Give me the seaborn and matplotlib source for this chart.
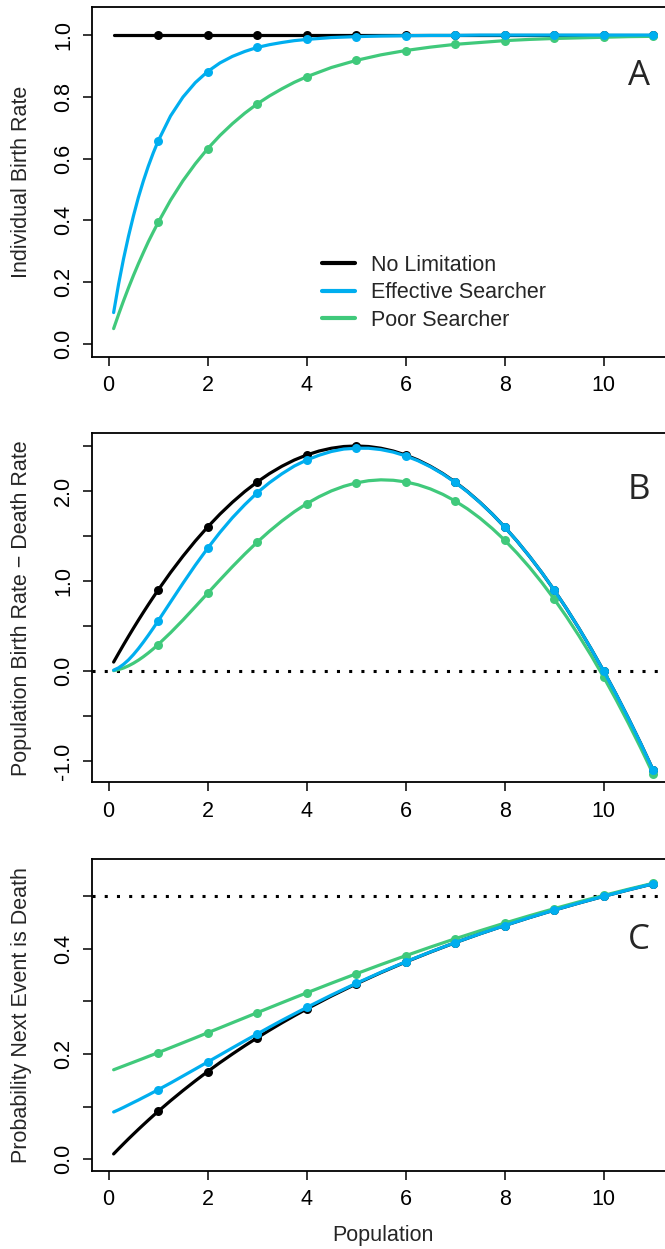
import matplotlib
matplotlib.use("Agg")
import pandas as pd
import matplotlib.pyplot as plt
import seaborn as sns
from matplotlib.lines import Line2D
from matplotlib.ticker import FixedLocator, FuncFormatter

population_ac = [0.1, 0.2, 0.3, 0.4, 0.5, 0.6, 0.7, 0.8, 0.9, 1.0,
                 1.25, 1.5, 1.75, 2.0, 2.25, 2.5, 2.75, 3.0, 3.25, 3.5, 3.75, 4.0,
                 4.5, 5.0, 5.5, 6.0, 6.5, 7.0, 7.5, 8.0, 8.5, 9.0, 9.5, 10.0,
                 10.5, 11.0]
# panel B is more curved, so read on a finer grid
population_b = [0.1, 0.2, 0.3, 0.4, 0.5, 0.6, 0.7, 0.8, 0.9,
                1.0, 1.25, 1.5, 1.75, 2.0, 2.25, 2.5, 2.75, 3.0, 3.25, 3.5,
                3.75, 4.0, 4.25, 4.5, 4.75, 5.0, 5.25, 5.5, 5.75, 6.0, 6.25,
                6.5, 6.75, 7.0, 7.25, 7.5, 7.75, 8.0, 8.25, 8.5, 8.75, 9.0,
                9.25, 9.5, 9.75, 10.0, 10.25, 10.5, 10.75, 11.0]
dot_population = [1, 2, 3, 4, 5, 6, 7, 8, 9, 10, 11]

searchers = ["No Limitation", "Effective Searcher", "Poor Searcher"]

# A - individual birth rate
birth_none = [1.0, 1.0, 1.0, 1.0, 1.0, 1.0, 1.0, 1.0, 1.0, 1.0, 1.0, 1.0,
              1.0, 1.0, 1.0, 1.0, 1.0, 1.0, 1.0, 1.0, 1.0, 1.0, 1.0, 1.0,
              1.0, 1.0, 1.0, 1.0, 1.0, 1.0, 1.0, 1.0, 1.0, 1.0, 1.0, 1.0]
birth_effective = [0.101, 0.193, 0.275, 0.348, 0.414, 0.474, 0.527, 0.575,
                   0.618, 0.657, 0.738, 0.799, 0.846, 0.882, 0.910, 0.931,
                   0.947, 0.960, 0.969, 0.976, 0.982, 0.986, 0.992, 0.995,
                   0.997, 0.998, 0.999, 0.999, 1.0, 1.0, 1.0, 1.0, 1.0, 1.0,
                   1.0, 1.0]
birth_poor = [0.049, 0.095, 0.139, 0.181, 0.221, 0.259, 0.295, 0.330, 0.362,
              0.393, 0.465, 0.528, 0.583, 0.632, 0.675, 0.713, 0.747, 0.777,
              0.803, 0.826, 0.847, 0.865, 0.895, 0.918, 0.936, 0.950, 0.961,
              0.970, 0.976, 0.982, 0.986, 0.989, 0.991, 0.993, 0.995, 0.996]

# B - population birth rate minus death rate
growth_none = [0.099, 0.196, 0.291, 0.384, 0.475, 0.564, 0.651, 0.736, 0.819,
               0.9, 1.094, 1.275, 1.444, 1.6, 1.744, 1.875, 1.994, 2.1, 2.194,
               2.275, 2.344, 2.4, 2.444, 2.475, 2.494, 2.5, 2.494, 2.475,
               2.444, 2.4, 2.344, 2.275, 2.194, 2.1, 1.994, 1.875, 1.744, 1.6,
               1.444, 1.275, 1.094, 0.9, 0.694, 0.475, 0.244, 0.0, -0.256,
               -0.525, -0.806, -1.1]
growth_effective = [0.009, 0.035, 0.074, 0.123, 0.182, 0.248, 0.320, 0.396,
                    0.475, 0.557, 0.766, 0.974, 1.175, 1.364, 1.541, 1.703,
                    1.848, 1.980, 2.093, 2.191, 2.277, 2.344, 2.397, 2.439,
                    2.466, 2.475, 2.475, 2.460, 2.432, 2.390, 2.336, 2.269,
                    2.189, 2.096, 1.991, 1.873, 1.743, 1.600, 1.444, 1.275,
                    1.094, 0.900, 0.694, 0.475, 0.244, 0.0, -0.256, -0.525,
                    -0.806, -1.1]
growth_poor = [0.004, 0.015, 0.033, 0.057, 0.086, 0.120, 0.158, 0.200, 0.245,
               0.294, 0.425, 0.566, 0.714, 0.864, 1.013, 1.159, 1.299, 1.431,
               1.554, 1.667, 1.769, 1.859, 1.936, 2.001, 2.052, 2.090, 2.114,
               2.124, 2.119, 2.101, 2.069, 2.023, 1.963, 1.889, 1.801, 1.699,
               1.583, 1.454, 1.310, 1.154, 0.984, 0.800, 0.603, 0.392, 0.170,
               -0.067, -0.317, -0.580, -0.856, -1.145]

# C - probability that the next event is a death
death_none = [0.0099, 0.0196, 0.0291, 0.0385, 0.0476, 0.0566, 0.0654, 0.0741,
              0.0826, 0.0909, 0.1111, 0.1304, 0.1489, 0.1667, 0.1837, 0.2000,
              0.2157, 0.2308, 0.2453, 0.2593, 0.2727, 0.2857, 0.3103, 0.3333,
              0.3548, 0.3750, 0.3939, 0.4118, 0.4286, 0.4444, 0.4595, 0.4737,
              0.4872, 0.5000, 0.5122, 0.5238]
death_effective = [0.0897, 0.0939, 0.0984, 0.1031, 0.1078, 0.1124, 0.1173,
                   0.1221, 0.1271, 0.1321, 0.1448, 0.1581, 0.1714, 0.1848,
                   0.1982, 0.2117, 0.2250, 0.2381, 0.2512, 0.2640, 0.2763,
                   0.2886, 0.3121, 0.3344, 0.3555, 0.3755, 0.3942, 0.4120,
                   0.4286, 0.4444, 0.4595, 0.4737, 0.4872, 0.5000, 0.5122,
                   0.5238]
death_poor = [0.1700, 0.1736, 0.1772, 0.1808, 0.1844, 0.1880, 0.1916, 0.1953,
              0.1989, 0.2026, 0.2120, 0.2214, 0.2308, 0.2404, 0.2499, 0.2595,
              0.2690, 0.2786, 0.2881, 0.2976, 0.3070, 0.3163, 0.3347, 0.3526,
              0.3701, 0.3870, 0.4034, 0.4192, 0.4344, 0.4490, 0.4630, 0.4765,
              0.4894, 0.5017, 0.5135, 0.5248]

colors = {"No Limitation": "black",
          "Effective Searcher": "#00AEEF",
          "Poor Searcher": "#40C97B"}
draw_order = ["No Limitation", "Poor Searcher", "Effective Searcher"]


def long_table(xs, none, effective, poor):
    frames = []
    for name, vals in zip(searchers, [none, effective, poor]):
        frames.append(pd.DataFrame({"population": xs,
                                    "value": vals, "searcher": name}))
    return pd.concat(frames, ignore_index=True)


sns.set_style("ticks")
plt.rcParams["font.family"] = ["Liberation Sans", "DejaVu Sans"]
plt.rcParams["font.size"] = 15.5

W, H = 665, 1249
fig = plt.figure(figsize=(W / 100, H / 100), dpi=100)

left = 91.7 / W
width = 583.0 / W
xlim = (-0.343, 11.436)
FS = 15.5

panels = [
    dict(df=long_table(population_ac, birth_none, birth_effective, birth_poor),
         top=6.7, bottom=356.7, ylim=(-0.042, 1.092),
         ticks=[0, 0.2, 0.4, 0.6, 0.8, 1.0], labeled=[0, 0.2, 0.4, 0.6, 0.8, 1.0],
         ylabel="Individual Birth Rate", tag="A", tag_y=0.867, hline=None),
    dict(df=long_table(population_b, growth_none, growth_effective, growth_poor),
         top=433.3, bottom=782.3, ylim=(-1.237, 2.641),
         ticks=[-1, -0.5, 0, 0.5, 1, 1.5, 2, 2.5], labeled=[-1, 0, 1, 2],
         ylabel="Population Birth Rate \u2212 Death Rate", tag="B", tag_y=2.006,
         hline=0.0),
    dict(df=long_table(population_ac, death_none, death_effective, death_poor),
         top=859.0, bottom=1170.7, ylim=(-0.022, 0.571),
         ticks=[0, 0.1, 0.2, 0.3, 0.4, 0.5], labeled=[0, 0.2, 0.4],
         ylabel="Probability Next Event is Death", tag="C", tag_y=0.417,
         hline=0.5),
]

for i, p in enumerate(panels):
    ax = fig.add_axes([left, 1 - p["bottom"] / H, width,
                       (p["bottom"] - p["top"]) / H])
    df = p["df"]
    z = 3
    for name in draw_order:
        sub = df[df["searcher"] == name]
        sns.lineplot(data=sub, x="population", y="value", color=colors[name],
                     linewidth=2.3, estimator=None, sort=False, legend=False,
                     ax=ax, zorder=z)
        dots = sub[sub["population"].isin(dot_population)]
        sns.scatterplot(data=dots, x="population", y="value",
                        color=colors[name], s=42, linewidth=0, legend=False,
                        ax=ax, zorder=z + 0.5)
        z += 1
    if p["hline"] is not None:
        ax.axhline(p["hline"], color="black", linewidth=2.2,
                   linestyle=(0, (1, 3)), dash_capstyle="butt", zorder=2)

    ax.set_xlim(*xlim)
    ax.set_ylim(*p["ylim"])
    ax.set_xticks([0, 2, 4, 6, 8, 10])
    ax.yaxis.set_major_locator(FixedLocator(p["ticks"]))
    labeled = p["labeled"]
    ax.yaxis.set_major_formatter(FuncFormatter(
        lambda v, pos, lab=labeled: (f"{v:.1f}" if any(abs(v - l) < 1e-9 for l in lab) else "")))
    for s in ax.spines.values():
        s.set_linewidth(1.3)
        s.set_color("black")
    ax.tick_params(direction="out", length=6.5, width=1.1, color="black",
                   labelsize=FS, labelcolor="black")
    ax.tick_params(axis="x", pad=7)
    ax.tick_params(axis="y", pad=6)
    for t in ax.get_yticklabels():
        t.set_rotation(90)
        t.set_va("center")

    ax.set_ylabel(p["ylabel"], fontsize=FS, va="center")
    ax.yaxis.set_label_coords((22 - 91.7) / 583.0, 0.5)
    if i == 2:
        ax.set_xlabel("Population", fontsize=FS, va="center")
        ax.xaxis.set_label_coords(0.5, -(1235 - p["bottom"]) / (p["bottom"] - p["top"]))
    else:
        ax.set_xlabel("")

    ax.text(10.71, p["tag_y"], p["tag"], fontsize=25, ha="center", va="center",
            family=["Open Sans", "DejaVu Sans"])

    if i == 0:
        handles = [Line2D([], [], color=colors[n], linewidth=3) for n in searchers]
        ax.legend(handles, searchers, loc="center left", frameon=False,
                  bbox_to_anchor=(321.7 / W, 1 - 292.7 / H),
                  bbox_transform=fig.transFigure, borderpad=0, borderaxespad=0,
                  handlelength=1.55, handletextpad=0.75, labelspacing=0.3,
                  fontsize=FS)

fig.savefig("out.png", dpi=100)
